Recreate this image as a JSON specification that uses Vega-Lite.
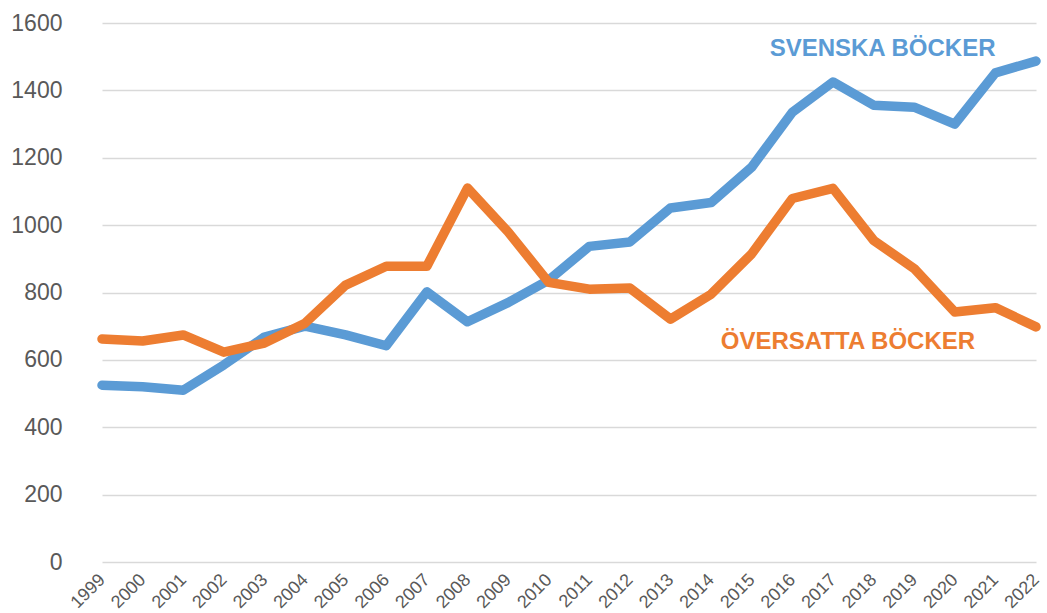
{
  "$schema": "https://vega.github.io/schema/vega-lite/v6.json",
  "autosize": "none",
  "width": 965,
  "height": 539,
  "padding": {"left": 82, "top": 23, "right": 0, "bottom": 51},
  "background": "white",
  "config": {
    "view": {"stroke": null},
    "font": "Liberation Sans",
    "axis": {"labelFont": "Liberation Sans", "labelColor": "#595959"}
  },
  "datasets": {
    "books": [
      {"year": "1999", "series": "Svenska", "value": 525},
      {"year": "2000", "series": "Svenska", "value": 520},
      {"year": "2001", "series": "Svenska", "value": 510},
      {"year": "2002", "series": "Svenska", "value": 585},
      {"year": "2003", "series": "Svenska", "value": 668},
      {"year": "2004", "series": "Svenska", "value": 700},
      {"year": "2005", "series": "Svenska", "value": 674},
      {"year": "2006", "series": "Svenska", "value": 642},
      {"year": "2007", "series": "Svenska", "value": 802},
      {"year": "2008", "series": "Svenska", "value": 713},
      {"year": "2009", "series": "Svenska", "value": 770},
      {"year": "2010", "series": "Svenska", "value": 837},
      {"year": "2011", "series": "Svenska", "value": 937},
      {"year": "2012", "series": "Svenska", "value": 950},
      {"year": "2013", "series": "Svenska", "value": 1051},
      {"year": "2014", "series": "Svenska", "value": 1067},
      {"year": "2015", "series": "Svenska", "value": 1172},
      {"year": "2016", "series": "Svenska", "value": 1335},
      {"year": "2017", "series": "Svenska", "value": 1425},
      {"year": "2018", "series": "Svenska", "value": 1356},
      {"year": "2019", "series": "Svenska", "value": 1350},
      {"year": "2020", "series": "Svenska", "value": 1300},
      {"year": "2021", "series": "Svenska", "value": 1452},
      {"year": "2022", "series": "Svenska", "value": 1487},
      {"year": "1999", "series": "Översatta", "value": 662},
      {"year": "2000", "series": "Översatta", "value": 656},
      {"year": "2001", "series": "Översatta", "value": 674},
      {"year": "2002", "series": "Översatta", "value": 623},
      {"year": "2003", "series": "Översatta", "value": 650},
      {"year": "2004", "series": "Översatta", "value": 709},
      {"year": "2005", "series": "Översatta", "value": 822},
      {"year": "2006", "series": "Översatta", "value": 878},
      {"year": "2007", "series": "Översatta", "value": 878},
      {"year": "2008", "series": "Översatta", "value": 1110},
      {"year": "2009", "series": "Översatta", "value": 980},
      {"year": "2010", "series": "Översatta", "value": 830},
      {"year": "2011", "series": "Översatta", "value": 810},
      {"year": "2012", "series": "Översatta", "value": 813},
      {"year": "2013", "series": "Översatta", "value": 721},
      {"year": "2014", "series": "Översatta", "value": 795},
      {"year": "2015", "series": "Översatta", "value": 915},
      {"year": "2016", "series": "Översatta", "value": 1079},
      {"year": "2017", "series": "Översatta", "value": 1109},
      {"year": "2018", "series": "Översatta", "value": 955},
      {"year": "2019", "series": "Översatta", "value": 871},
      {"year": "2020", "series": "Översatta", "value": 742},
      {"year": "2021", "series": "Översatta", "value": 755},
      {"year": "2022", "series": "Översatta", "value": 698}
    ],
    "labels": [
      {"year": "2018", "series": "Svenska", "value": 1524, "label": "SVENSKA BÖCKER", "shift": 9},
      {"year": "2017", "series": "Översatta", "value": 654, "label": "ÖVERSATTA BÖCKER", "shift": 15}
    ]
  },
  "encoding": {
    "x": {
      "field": "year",
      "type": "ordinal",
      "scale": {"type": "point", "range": [20, 954], "padding": 0},
      "axis": {
        "title": null,
        "labelAngle": -45,
        "labelAlign": "right",
        "labelBaseline": "middle",
        "labelFontSize": 18,
        "labelPadding": 15,
        "domain": false,
        "ticks": false,
        "grid": false
      }
    },
    "y": {
      "field": "value",
      "type": "quantitative",
      "scale": {"domain": [0, 1600], "nice": false},
      "axis": {
        "title": null,
        "format": "d",
        "values": [0, 200, 400, 600, 800, 1000, 1200, 1400, 1600],
        "labelFontSize": 23,
        "labelPadding": 20,
        "domain": false,
        "ticks": false,
        "grid": true,
        "gridColor": "#d9d9d9",
        "gridWidth": 1.5
      }
    },
    "color": {
      "field": "series",
      "type": "nominal",
      "scale": {"domain": ["Svenska", "Översatta"], "range": ["#5B9BD5", "#ED7D31"]},
      "legend": null
    }
  },
  "layer": [
    {
      "data": {"name": "books"},
      "transform": [{"filter": "datum.series === 'Svenska'"}],
      "mark": {"type": "line", "strokeWidth": 9.5, "strokeCap": "round", "strokeJoin": "round"}
    },
    {
      "data": {"name": "books"},
      "transform": [{"filter": "datum.series === 'Översatta'"}],
      "mark": {"type": "line", "strokeWidth": 9.5, "strokeCap": "round", "strokeJoin": "round"}
    },
    {
      "data": {"name": "labels"},
      "mark": {"type": "text", "fontSize": 24, "fontWeight": "bold", "align": "center", "baseline": "middle", "font": "Liberation Sans"},
      "encoding": {
        "text": {"field": "label"},
        "xOffset": {"field": "shift", "type": "quantitative", "scale": null}
      }
    }
  ]
}
